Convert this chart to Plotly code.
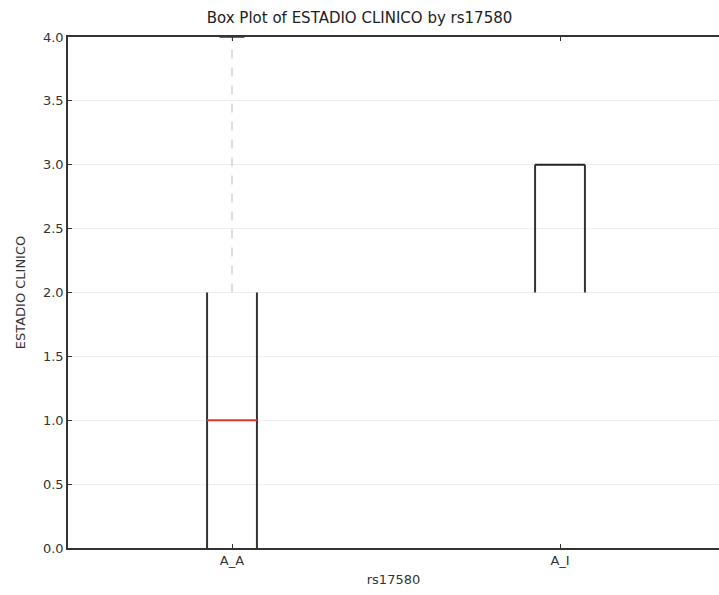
import plotly.graph_objects as go

categories = ["A_A", "A_I"]
positions = [1, 2]
q1 = [0.0, 2.0]
median = [1.0, 3.0]
q3 = [2.0, 3.0]
whisker_low = [0.0, 2.0]
whisker_high = [4.0, 3.0]

y_ticks = [0.0, 0.5, 1.0, 1.5, 2.0, 2.5, 3.0, 3.5, 4.0]

box_half = 0.076
cap_half = 0.038
median_colors = ["#e8322d", "#222222"]

fig = go.Figure()

for i, p in enumerate(positions):
    # whisker (dashed) above box
    if whisker_high[i] > q3[i]:
        fig.add_trace(go.Scatter(x=[p, p], y=[q3[i], whisker_high[i]], mode="lines",
                                 line=dict(color="#c8c8c8", width=1.2, dash="dash"),
                                 hoverinfo="skip", showlegend=False))
        fig.add_trace(go.Scatter(x=[p - cap_half, p + cap_half], y=[whisker_high[i]] * 2,
                                 mode="lines", line=dict(color="#333333", width=1.5),
                                 hoverinfo="skip", showlegend=False, cliponaxis=False))
    if whisker_low[i] < q1[i]:
        fig.add_trace(go.Scatter(x=[p, p], y=[whisker_low[i], q1[i]], mode="lines",
                                 line=dict(color="#c8c8c8", width=1.2, dash="dash"),
                                 hoverinfo="skip", showlegend=False))
    # box sides
    for side in (-box_half, box_half):
        fig.add_trace(go.Scatter(x=[p + side, p + side], y=[q1[i], q3[i]], mode="lines",
                                 line=dict(color="#333333", width=2),
                                 hoverinfo="skip", showlegend=False))
    # median
    fig.add_trace(go.Scatter(x=[p - box_half, p + box_half], y=[median[i]] * 2, mode="lines",
                             line=dict(color=median_colors[i], width=2),
                             hoverinfo="skip", showlegend=False))

fig.update_layout(
    width=719, height=595,
    margin=dict(l=68, r=0, t=37, b=47),
    paper_bgcolor="white", plot_bgcolor="white",
    font=dict(family="DejaVu Sans", size=13, color="#333333"),
    title=dict(text="Box Plot of ESTADIO CLINICO by rs17580", x=0.5, xanchor="center",
               y=1 - 18 / 595, yanchor="middle", font=dict(size=15, color="#222222")),
    xaxis=dict(range=[0.5, 0.5 + 651 / 328], tickvals=positions, ticktext=categories,
               showgrid=False, zeroline=False, showline=True, linecolor="#333333",
               linewidth=1.5, mirror="ticks", ticks="inside", ticklen=4, tickcolor="#333333",
               title=dict(text="rs17580", standoff=8, font=dict(size=13))),
    yaxis=dict(range=[0, 4], tickvals=y_ticks, ticktext=[f"{v:.1f}" for v in y_ticks],
               showgrid=True, gridcolor="#eeeeee", gridwidth=1, zeroline=False,
               showline=True, linecolor="#333333", linewidth=1.5, mirror=False,
               ticks="inside", ticklen=4, tickcolor="#333333",
               title=dict(text="ESTADIO CLINICO", standoff=14, font=dict(size=13))),
)

fig.write_html("out.html")
